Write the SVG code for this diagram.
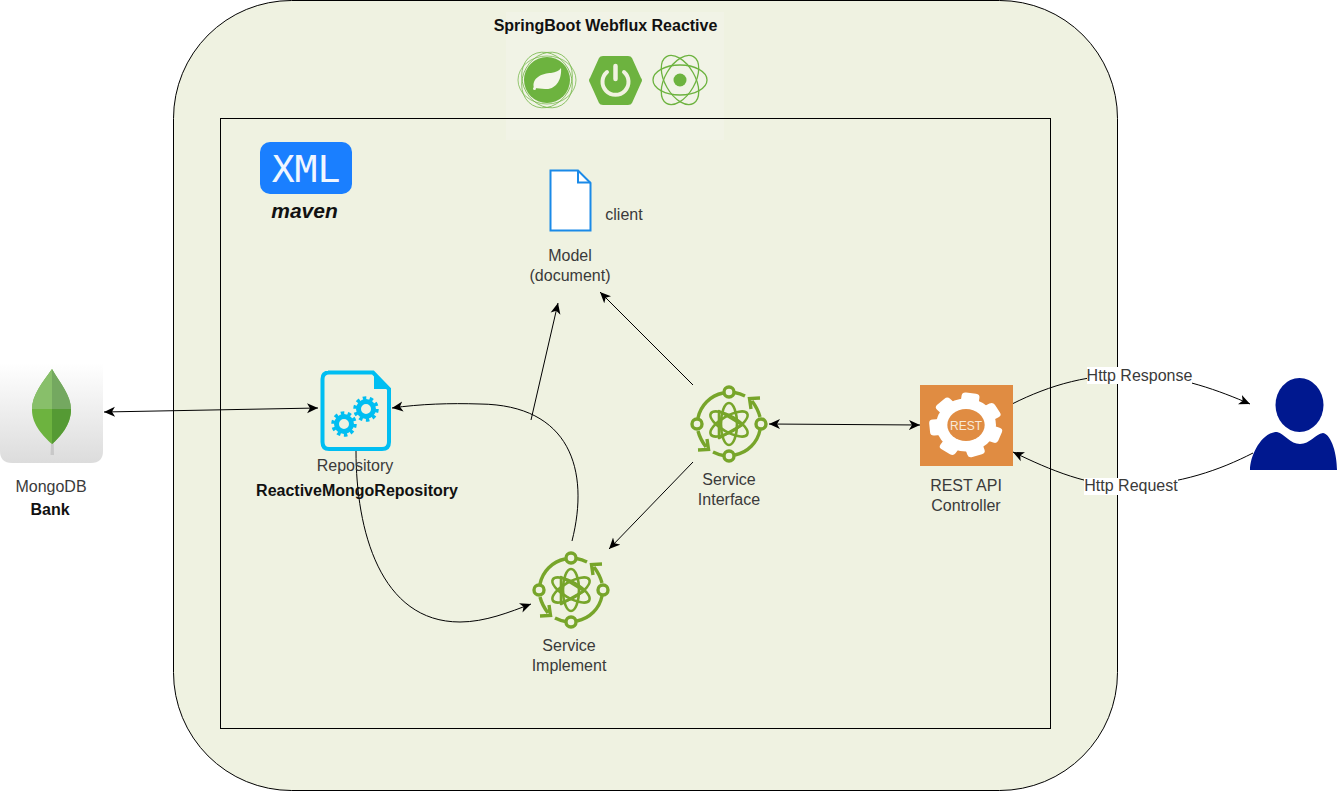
<svg xmlns="http://www.w3.org/2000/svg" width="1338" height="791" viewBox="0 0 1338 791">
<style>
text{font-family:"Liberation Sans",Arial,sans-serif;font-size:16px;fill:#3a3a3a;text-anchor:middle}
.b{font-weight:bold;fill:#111}
.c{fill:none;stroke:#000;stroke-width:1;marker-end:url(#a)}
.d{marker-start:url(#s)}
.g{fill:none;stroke:#77a52a;stroke-width:3.400}
.i{stroke-width:2.600}
.lb{fill:#fff}
</style>
<defs>
<marker id="a" markerWidth="13" markerHeight="11" refX="11" refY="5.500" orient="auto" markerUnits="userSpaceOnUse"><path d="M0 0.500L11 5.500L0 10.500L3 5.500Z" fill="#000"/></marker>
<marker id="s" markerWidth="13" markerHeight="11" refX="0" refY="5.500" orient="auto" markerUnits="userSpaceOnUse"><path d="M11 0.500L0 5.500L11 10.500L8 5.500Z" fill="#000"/></marker>
<linearGradient id="mg" x1="0" y1="0" x2="0" y2="1"><stop offset="0" stop-color="#fff"/><stop offset="1" stop-color="#dcdcdc"/></linearGradient>
<symbol id="atom" overflow="visible" viewBox="-40 -40 80 80" width="80" height="80">
<g class="g">
<circle cx="0" cy="-32" r="5"/><circle cx="-32" cy="0" r="5"/><circle cx="32" cy="0" r="5"/><circle cx="0" cy="32" r="5"/>
<path d="M5.500 -31.500Q11 -30.500 16 -28M-31 -6A32 32 0 0 1 -6 -31M31 6A32 32 0 0 1 6 31M-5.500 31.500Q-11 30.500 -16 28"/>
<path d="M31 -7Q29 -15 23 -23M31 -26L20.500 -25.500L22 -15M-31 7Q-29 15 -23 23M-31 26L-20.500 25.500L-22 15"/>
<path class="i" stroke-linejoin="round" d="M-10 -13L13 1L-10 14Z"/>
<ellipse class="i" rx="21" ry="8" transform="rotate(90)"/><ellipse class="i" rx="21" ry="8" transform="rotate(30)"/><ellipse class="i" rx="21" ry="8" transform="rotate(-30)"/>
</g>
</symbol>
</defs>

<g id="outer-container"><rect x="173.500" y="0.500" width="944" height="790" rx="118" fill="#eff2e1" stroke="#000"/></g>
<g id="logo-panel"><rect x="506" y="12" width="218" height="128" fill="#f1f3e6"/></g>
<g id="inner-container"><rect x="220.500" y="118.500" width="830" height="610" fill="#eff2e1" stroke="#000"/><rect x="506" y="119" width="218" height="21" fill="#f1f3e6"/></g>

<g id="spring-logos">
<text class="b" x="605.500" y="31">SpringBoot Webflux Reactive</text>
<g id="spring-framework">
<circle cx="547" cy="80" r="23" fill="#6db33f"/>
<g fill="none" stroke="#6db33f" stroke-width="0.700"><ellipse cx="547" cy="80" rx="29" ry="24"/><ellipse cx="547" cy="80" rx="29" ry="24" transform="rotate(60 547 80)"/><ellipse cx="547" cy="80" rx="29" ry="24" transform="rotate(120 547 80)"/></g>
<path d="M534 88C531 78 543 73 551 73C556 72 559 71 561 68C562 78 557 90 545 89C541 89 538 88 534 88Z" fill="#f4f6ea"/><circle cx="534.500" cy="88.500" r="1.500" fill="#f4f6ea"/>
</g>
<g id="spring-boot">
<path d="M603 56L628 56Q631 56 632 58L641 78Q643 80 641 83L632 103Q631 105 628 105L603 105Q600 105 599 103L590 83Q588 80 590 78L599 58Q600 56 603 56Z" fill="#6db33f"/>
<path d="M607 72A13 13 0 1 0 624 72" fill="none" stroke="#f1f2e0" stroke-width="4" stroke-linecap="round"/><path d="M615.500 66V79" stroke="#f1f2e0" stroke-width="4.500" stroke-linecap="round"/>
</g>
<g id="reactor">
<circle cx="680" cy="80" r="6.500" fill="#6db33f"/>
<g fill="none" stroke="#6db33f" stroke-width="1.300"><ellipse cx="680" cy="80" rx="27" ry="15"/><ellipse cx="680" cy="80" rx="27" ry="15" transform="rotate(60 680 80)"/><ellipse cx="680" cy="80" rx="27" ry="15" transform="rotate(120 680 80)"/></g>
</g>
</g>

<g id="maven">
<rect x="260" y="142" width="92" height="52" rx="10" fill="#1a7fff"/>
<text x="306" y="182" style="font-family:'DejaVu Sans Mono',monospace;font-size:38px;fill:#f0f6ff">XML</text>
<text class="b" x="304.500" y="218" style="font-size:21px;font-style:italic">maven</text>
</g>

<g id="connectors">
<path class="c d" d="M104 412L318 408"/>
<path class="c d" d="M769 424L920 425"/>
<path class="c" d="M531 420L558 303"/>
<path class="c" d="M693 385L600 292"/>
<path class="c" d="M693 462L609 549"/>
<path class="c" d="M356 451C356 530 380 622 460 622C485 622 510 612 531 604"/>
<path class="c" d="M572 541C590 470 570 405 480 404C450 403 420 404 392 408"/>
<path class="c" d="M1012 404C1050 385 1090 373 1140 375C1180 376 1220 391 1250 404"/>
<path class="c" d="M1253 453C1220 470 1180 484 1131 486C1090 487 1050 470 1013 452"/>
</g>

<g id="mongodb">
<path d="M0 363H103V451Q103 463 91 463H12Q0 463 0 451Z" fill="url(#mg)"/>
<path d="M51.500 432H53.500L54 455H50.500Z" fill="#c8c8c8"/>
<path d="M52 369C42 383 32 395 32 410C32 425 44 437 52 444C60 437 71 425 71 410C71 395 60 383 52 369Z" fill="#6db33f"/>
<path d="M52 369C42 383 32 395 32 409H52Z" fill="#88bf6a"/><path d="M52 369C60 383 71 395 71 409H52Z" fill="#74a860"/><path d="M52 409V444C60 437 71 425 71 409Z" fill="#559a34"/>
<text x="51" y="492">MongoDB</text><text class="b" x="50" y="515">Bank</text>
</g>

<g id="repository">
<path d="M328 372.500H373L389 389V442Q389 449 382 449H329Q322.500 449 322.500 442V379Q322.500 372.500 329 372.500Z" fill="#eff2e1" stroke="#00bef2" stroke-width="4"/>
<path d="M374 373V389H389Z" fill="#00bef2"/>
<g fill="none" stroke="#00bef2"><circle cx="344" cy="424" r="7.500" stroke-width="5"/><circle cx="344" cy="424" r="11" stroke-width="3.500" stroke-dasharray="3.500 3.400"/><circle cx="366" cy="409" r="7.500" stroke-width="5"/><circle cx="366" cy="409" r="11" stroke-width="3.500" stroke-dasharray="3.500 3.400"/></g>
<text x="355" y="471">Repository</text>
<text class="b" x="357" y="496">ReactiveMongoRepository</text>
</g>

<g id="model-document">
<path d="M550.500 170.500H578L590.500 183V230.500H550.500Z" fill="#fff" stroke="#1a8ae8" stroke-width="2"/>
<path d="M578 170.500V182.500H590.500" fill="none" stroke="#1a8ae8" stroke-width="2"/>
<text x="624" y="220">client</text>
<text x="570" y="261">Model</text><text x="570" y="281">(document)</text>
</g>

<g id="service-interface"><use href="#atom" x="689" y="384"/><text x="729" y="485">Service</text><text x="729" y="505">Interface</text></g>
<g id="service-implement"><use href="#atom" x="531" y="550"/><text x="569" y="651">Service</text><text x="569" y="671">Implement</text></g>

<g id="rest-controller">
<rect x="920" y="385" width="93" height="81" fill="#e08c42"/>
<g transform="translate(966 425)">
<g transform="scale(1 .88)" fill="#fff">
<circle r="30"/>
<rect x="-9" y="-36.500" width="18" height="36" rx="4" transform="rotate(8)"/><rect x="-9" y="-36.500" width="18" height="36" rx="4" transform="rotate(59.400)"/><rect x="-9" y="-36.500" width="18" height="36" rx="4" transform="rotate(110.800)"/><rect x="-9" y="-36.500" width="18" height="36" rx="4" transform="rotate(162.200)"/><rect x="-9" y="-36.500" width="18" height="36" rx="4" transform="rotate(213.600)"/><rect x="-9" y="-36.500" width="18" height="36" rx="4" transform="rotate(265)"/><rect x="-9" y="-36.500" width="18" height="36" rx="4" transform="rotate(316.400)"/>
</g>
<ellipse rx="18.700" ry="16" fill="#e08c42"/>
<text y="4.500" style="font-size:12px;fill:#f8ead8">REST</text>
</g>
<text x="966" y="491">REST API</text><text x="966" y="511">Controller</text>
</g>

<g id="user">
<ellipse cx="1299.500" cy="405" rx="24" ry="27" fill="#00188f"/>
<path d="M1250 470C1250 455 1262 432 1277 432C1285 434 1290 444 1300 444C1310 444 1315 434 1323 433C1332 435 1337 455 1337 470Z" fill="#00188f"/>
</g>

<g id="connector-labels">
<rect class="lb" x="1087" y="367" width="105" height="17"/><text x="1139.500" y="381">Http Response</text>
<rect class="lb" x="1084" y="478" width="94" height="17"/><text x="1131" y="491">Http Request</text>
</g>
</svg>
